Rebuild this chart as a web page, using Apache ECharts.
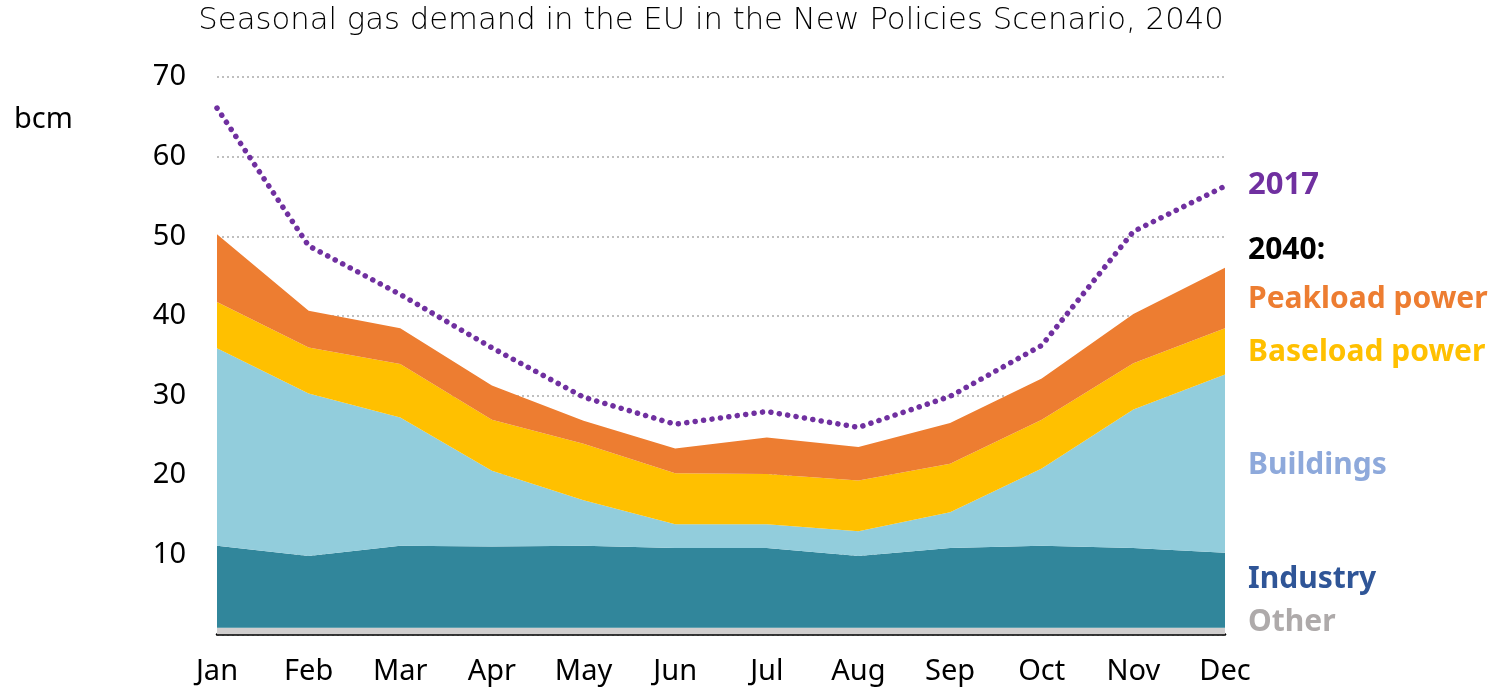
<!DOCTYPE html>
<html>
<head>
<meta charset="utf-8">
<script src="https://cdn.jsdelivr.net/npm/echarts@6/dist/echarts.min.js"></script>
<style>
html,body{margin:0;padding:0;background:#fff;}
#chart{width:1495px;height:690px;}
</style>
</head>
<body>
<div id="chart"></div>
<script>
const months = ['Jan','Feb','Mar','Apr','May','Jun','Jul','Aug','Sep','Oct','Nov','Dec'];
const other     = [0.85,0.85,0.85,0.85,0.85,0.85,0.85,0.85,0.85,0.85,0.85,0.85];
const industry  = [10.3,9.0,10.3,10.2,10.3,10.0,10.0,9.0,10.0,10.3,10.0,9.4];
const buildings = [24.8,20.4,16.1,9.5,5.7,3.0,3.0,3.1,4.5,9.7,17.4,22.4];
const baseload  = [5.8,5.8,6.7,6.4,7.1,6.4,6.3,6.4,6.1,6.1,5.8,5.8];
const peakload  = [8.5,4.6,4.5,4.3,2.9,3.1,4.6,4.2,5.1,5.2,6.2,7.6];
const demand2017 = [66.1,48.8,42.7,36.0,29.8,26.4,28.0,26.0,29.9,36.3,50.6,56.3];
const yTicks = [10,20,30,40,50,60,70];

const chart = echarts.init(document.getElementById('chart'));
const FONT = 'Noto Sans';
function area(name, data, color, z) {
  return {
    name: name, type: 'line', stack: 'total', data: data,
    symbol: 'none', smooth: false, z: z,
    lineStyle: { width: 0 },
    areaStyle: { color: color, opacity: 1 },
    itemStyle: { color: color }
  };
}
const labelX = 1248;
function lbl(text, cy, color, size) {
  return {
    type: 'text', x: labelX, y: cy,
    style: { text: text, fill: color, verticalAlign: 'middle', align: 'left',
             font: 'bold ' + (size || 30) + 'px "' + FONT + '"' }
  };
}
chart.setOption({
  animation: false,
  textStyle: { fontFamily: FONT },
  grid: { left: 217, right: 270, top: 77, bottom: 55.5, containLabel: false },
  xAxis: {
    type: 'category', data: months, boundaryGap: false,
    axisLine: { show: true, lineStyle: { color: '#000', width: 2.5 } },
    axisTick: { show: false },
    axisLabel: { color: '#000', fontSize: 29, margin: 23, fontFamily: FONT },
    splitLine: { show: false }
  },
  yAxis: {
    type: 'value', min: 0, max: 70, interval: 10,
    axisLine: { show: false }, axisTick: { show: false },
    axisLabel: {
      color: '#000', fontSize: 29, margin: 31, fontFamily: FONT,
      formatter: function (v) { return yTicks.indexOf(v) >= 0 ? String(v) : ''; }
    },
    splitLine: { show: true, lineStyle: { color: '#BFBFBF', width: 2, type: [2, 3] } }
  },
  series: [
    area('Other', other, '#D0CECE', 2),
    area('Industry', industry, '#31869B', 2),
    area('Buildings', buildings, '#92CDDC', 2),
    area('Baseload power', baseload, '#FFC000', 2),
    area('Peakload power', peakload, '#ED7D31', 2),
    {
      name: '2017', type: 'line', data: demand2017, symbol: 'none', z: 5,
      lineStyle: { color: '#7030A0', width: 5.5, type: [0.1, 8.4], cap: 'round' }
    }
  ],
  graphic: [
    { type: 'text', x: 711, y: 21,
      style: { text: 'Seasonal gas demand in the EU in the New Policies Scenario, 2040',
               fill: '#000', align: 'center', verticalAlign: 'middle',
               font: '200 30.7px "DejaVu Sans"' } },
    { type: 'text', x: 14, y: 120,
      style: { text: 'bcm', fill: '#000', verticalAlign: 'middle', font: '29px "' + FONT + '"' } },
    lbl('2017', 185, '#7030A0', 31),
    lbl('2040:', 250, '#000000'),
    lbl('Peakload power', 299, '#ED7D31'),
    lbl('Baseload power', 352, '#FFC000'),
    lbl('Buildings', 465, '#8EA9DB'),
    lbl('Industry', 579, '#2F5597'),
    lbl('Other', 622, '#AEAAAA')
  ]
});
</script>
</body>
</html>
